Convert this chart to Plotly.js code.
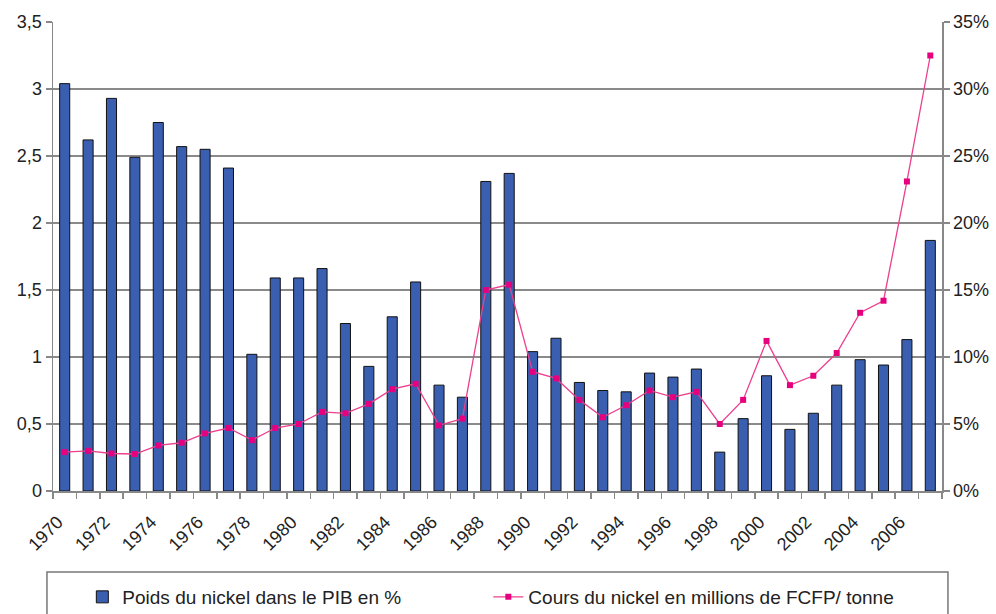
<!DOCTYPE html>
<html>
<head>
<meta charset="utf-8">
<script src="https://cdn.plot.ly/plotly-3.0.1.min.js"></script>
<style>html,body{margin:0;padding:0;background:#fff;}#chart{width:996px;height:614px;}</style>
</head>
<body>
<div id="chart"></div>
<script>
const years = [1970,1971,1972,1973,1974,1975,1976,1977,1978,1979,1980,1981,1982,1983,1984,1985,1986,1987,1988,1989,1990,1991,1992,1993,1994,1995,1996,1997,1998,1999,2000,2001,2002,2003,2004,2005,2006,2007];
const poidsPIB = [3.04,2.62,2.93,2.49,2.75,2.57,2.55,2.41,1.02,1.59,1.59,1.66,1.25,0.93,1.30,1.56,0.79,0.70,2.31,2.37,1.04,1.14,0.81,0.75,0.74,0.88,0.85,0.91,0.29,0.54,0.86,0.46,0.58,0.79,0.98,0.94,1.13,1.87];
const coursNickel = [2.9,3.0,2.8,2.76,3.4,3.6,4.3,4.7,3.8,4.7,5.0,5.9,5.8,6.5,7.6,8.0,4.9,5.4,15.0,15.4,8.9,8.4,6.8,5.5,6.4,7.5,7.0,7.4,5.0,6.8,11.2,7.9,8.6,10.3,13.3,14.2,23.1,32.5];
const tickYears = [1970,1972,1974,1976,1978,1980,1982,1984,1986,1988,1990,1992,1994,1996,1998,2000,2002,2004,2006];
const tickLabels = tickYears.map(String);
const nameBars = "Poids du nickel dans le PIB en %";
const nameLine = "Cours du nickel en millions de FCFP/ tonne";

const font = {family: "Liberation Sans, Arial, sans-serif", size: 18, color: "#222"};

const traces = [
  {
    type: "bar", x: years, y: poidsPIB, name: nameBars,
    marker: {color: "#3B5FB0", line: {color: "#111", width: 1}},
    yaxis: "y"
  },
  {
    type: "scatter", mode: "lines+markers", x: years, y: coursNickel, name: nameLine,
    line: {color: "#EC3F8E", width: 1.3},
    marker: {symbol: "square", size: 6, color: "#E6007E"},
    yaxis: "y2"
  }
];

const layout = {
  width: 996, height: 614,
  margin: {l: 53, r: 54, t: 22, b: 123, autoexpand: false},
  paper_bgcolor: "#fff", plot_bgcolor: "#fff",
  font: font,
  separators: ",.",
  bargap: 0.57,
  showlegend: true,
  xaxis: {
    range: [1969.5, 2007.5],
    tickmode: "array", tickvals: tickYears, ticktext: tickLabels,
    tickangle: -45, ticks: "", showgrid: false, zeroline: false,
    showline: true, linecolor: "#888", linewidth: 1.5,
    ticklabelstandoff: 12, ticklabelshift: -7,
    tickfont: font,
    minor: {tickmode: "linear", tick0: 1969.5, dtick: 1, ticks: "outside", ticklen: 6, tickcolor: "#888", tickwidth: 1.5, showgrid: false}
  },
  yaxis: {
    range: [0, 3.5], dtick: 0.5, tick0: 0,
    showgrid: true, gridcolor: "#8a8a8a", gridwidth: 1.5,
    zeroline: false, showline: true, linecolor: "#888", linewidth: 1.5,
    ticks: "outside", ticklen: 6, tickcolor: "#888", tickwidth: 1.5,
    tickfont: font
  },
  yaxis2: {
    overlaying: "y", side: "right",
    range: [0, 35], dtick: 5, tick0: 0, ticksuffix: "%",
    showgrid: false, zeroline: false, showline: true, linecolor: "#888", linewidth: 1.5,
    ticks: "outside", ticklen: 6, tickcolor: "#888", tickwidth: 1.5,
    tickfont: font
  },
  legend: {
    orientation: "h", x: 0.033, xanchor: "left", y: -0.226, yanchor: "middle",
    bgcolor: "rgba(0,0,0,0)", borderwidth: 0,
    entrywidth: 361, entrywidthmode: "pixels",
    font: {family: "Liberation Sans, Arial, sans-serif", size: 19, color: "#222"}
  },
  shapes: [
    {type: "rect", xref: "paper", yref: "paper", x0: -0.0068, x1: 1.0067, y0: -0.3, y1: -0.1727,
     line: {color: "#777", width: 1.5}, fillcolor: "rgba(0,0,0,0)", layer: "below"}
  ]
};

Plotly.newPlot("chart", traces, layout, {displayModeBar: false, staticPlot: true});
</script>
</body>
</html>
